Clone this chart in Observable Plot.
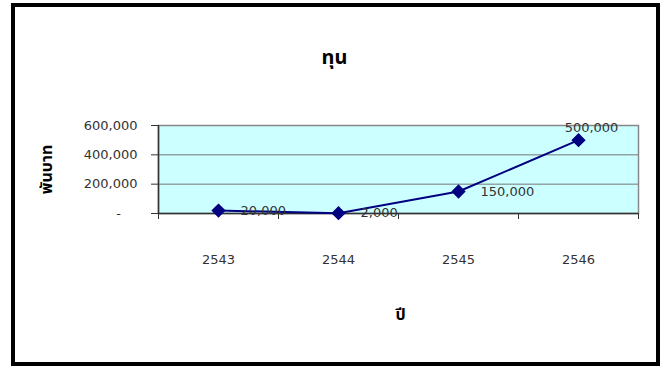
<!DOCTYPE html>
<html>
<head>
<meta charset="utf-8">
<script src="https://cdn.jsdelivr.net/npm/d3@7"></script>
<script src="https://cdn.jsdelivr.net/npm/@observablehq/plot@0.6"></script>
<style>
  html, body { margin: 0; padding: 0; background: #fff; }
  #wrap { position: relative; width: 664px; height: 372px; }
  #border {
    position: absolute; left: 11px; top: 3px;
    width: 641px; height: 355px;
    border: 4px solid #000; pointer-events: none;
  }
  #chart svg { display: block; }
</style>
</head>
<body>
<div id="wrap">
  <div id="chart"></div>
  <div id="border"></div>
</div>
<script>
// Capital (thousand baht) by Buddhist-era year
const years = [2543, 2544, 2545, 2546];
const capital = [20000, 2000, 150000, 500000];
const valueLabels = ["20,000", "2,000", "150,000", "500,000"];
const yTicks = [0, 200000, 400000, 600000];
const yTickLabels = ["-\u2007\u2007", "200,000", "400,000", "600,000"];

const rows = years.map((year, i) => ({year, value: capital[i], label: valueLabels[i], i}));
const bandEdges = d3.range(years.length + 1).map(i => years[0] - 0.5 + i);
const last = rows.length - 1;

const font = "DejaVu Sans, sans-serif";
const thai = "'Noto Sans Thai', 'Noto Sans', Tahoma, sans-serif";
const ink = "#333";

const chart = Plot.plot({
  width: 664,
  height: 372,
  marginLeft: 158,
  marginRight: 26,
  marginTop: 125,
  marginBottom: 159,
  style: {fontFamily: font, fontSize: "13px", color: ink, background: "transparent"},
  x: {type: "linear", domain: [bandEdges[0], bandEdges[bandEdges.length - 1]]},
  y: {domain: [0, 600000]},
  marks: [
    Plot.frame({fill: "#ccffff", stroke: null}),
    Plot.gridY({ticks: [200000, 400000], stroke: "#777", strokeOpacity: 1}),
    Plot.frame({stroke: "#888", strokeWidth: 1.5}),
    // value axis
    Plot.axisY({
      ticks: yTicks, tickSize: 7, tickPadding: 14,
      tickFormat: d => yTickLabels[yTicks.indexOf(d)],
      stroke: "#333", label: null, fontSize: 13, fill: ink
    }),
    Plot.ruleX([bandEdges[0]], {stroke: "#333", strokeWidth: 1.5}),
    Plot.ruleY([0], {stroke: "#333", strokeWidth: 1.5}),
    // category boundary ticks
    Plot.axisX({ticks: bandEdges, tickSize: 6, tickFormat: () => "", stroke: "#333", label: null}),
    // year labels at band centres
    Plot.axisX({ticks: years, tickSize: 0, tickPadding: 41, tickFormat: d => String(d), label: null, fontSize: 13, fill: ink}),
    // series
    Plot.line(rows, {x: "year", y: "value", stroke: "#000080", strokeWidth: 2}),
    Plot.dot(rows, {x: "year", y: "value", symbol: "diamond2", r: 5.5, fill: "#000080", stroke: "#000080"}),
    Plot.text(rows.filter(d => d.i !== last), {x: "year", y: "value", text: "label", textAnchor: "start", dx: 22, fontSize: 13, fill: ink}),
    Plot.text(rows.filter(d => d.i === last), {x: "year", y: "value", text: "label", textAnchor: "middle", dx: 13, dy: -12, fontSize: 13, fill: ink}),
    // titles
    Plot.text(["ทุน"], {frameAnchor: "top", textAnchor: "middle", dx: -64, dy: -76, fontSize: 20, fontWeight: "bold", fontFamily: thai, fill: "#000"}),
    Plot.text(["พันบาท"], {frameAnchor: "left", textAnchor: "middle", dx: -112, rotate: -90, fontSize: 16, fontWeight: "bold", fontFamily: thai, fill: "#000"}),
    Plot.text(["ปี"], {frameAnchor: "bottom", textAnchor: "middle", dx: 2, dy: 106, fontSize: 16, fontWeight: "bold", fontFamily: thai, fill: "#000"})
  ]
});
document.getElementById("chart").append(chart);
</script>
</body>
</html>
